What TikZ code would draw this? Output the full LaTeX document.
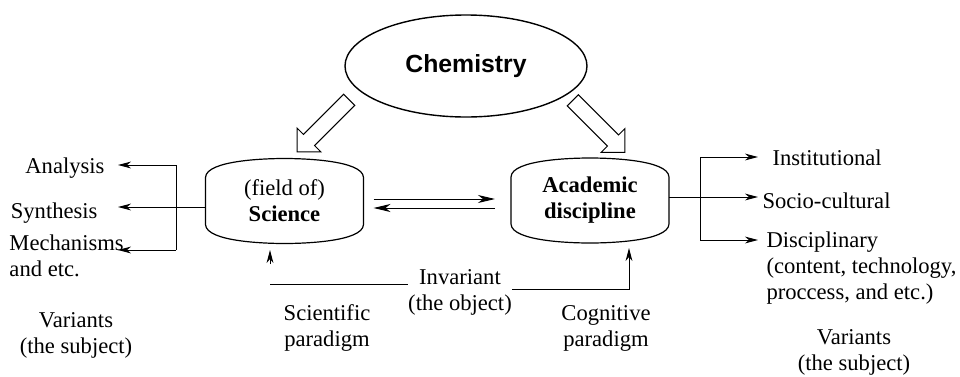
\documentclass[tikz,border=0pt]{standalone}
\usepackage{fontspec}
\setmainfont{Liberation Serif}
\newfontfamily\chemfont{Liberation Sans}
\usetikzlibrary{
    shapes.geometric,
    shapes.arrows,
    arrows.meta,
    calc,
    positioning
}
\tikzset{txt/.style={inner sep=0pt, align=center, font=\fontsize{11.3}{13}\selectfont}}
\tikzset{thintip/.style={-{Stealth[length=6.5pt, width=3.4pt, inset=2pt]}}}
\tikzset{longtip/.style={-{Stealth[length=8.5pt, width=4pt, inset=2.5pt]}}}
\tikzset{hollow/.style={single arrow, draw, line width=0.5pt, single arrow head extend=4.4pt,
    inner xsep=0pt, inner ysep=3.7pt, minimum width=16.2pt, minimum height=36.8pt}}
\tikzset{cask/.style={txt, minimum width=78.5pt, minimum height=42pt,
    append after command={\pgfextra{
        \draw[line width=0.6pt, looseness=0.55] ([yshift=-9.5pt]\tikzlastnode.north west)
            to[out=88,in=180] (\tikzlastnode.north)
            to[out=0,in=92] ([yshift=-9.5pt]\tikzlastnode.north east)
            -- ([yshift=9.5pt]\tikzlastnode.south east)
            to[out=-92,in=0] (\tikzlastnode.south)
            to[out=180,in=-88] ([yshift=9.5pt]\tikzlastnode.south west) -- cycle;}}}}

\begin{document}
\begin{tikzpicture}[x=0.5pt, y=-0.5pt, line width=0.5pt]
    \useasboundingbox (0,0) rectangle (960,376);

    % top and the two boxes
    \node[draw, ellipse, line width=0.7pt, minimum width=121pt, minimum height=51pt, inner sep=0pt,
        font=\chemfont\fontsize{12.4}{14}\selectfont\bfseries] (chem) at (466,66) {Chemistry};
    \node[cask] (sci) at (284.5,201) {(field of)\\\textbf{Science}};
    \node[cask] (acad) at (590,200.5) {\textbf{Academic}\\\textbf{discipline}};

    \node[hollow, rotate=225] (tosci) at (326,123) {};
    \node[hollow, rotate=-45] (toacad) at (596,123.5) {};

    \coordinate (topl) at ([shift={(5pt,1pt)}]sci.east);
    \coordinate (botl) at ([shift={(5pt,-3.5pt)}]sci.east);
    \draw[longtip, shorten >=8pt] (topl) -- (topl -| acad.west);
    \draw[longtip, shorten <=8pt] (botl -| acad.west) -- (botl);

    % left side
    \node[txt, anchor=east] (ana) at (105,167.7) {Analysis};
    \node[txt, anchor=east] (syn) at (98,212.7) {Synthesis};
    \node[txt, anchor=west, align=left] (mech) at (9,255.5) {Mechanisms\\and etc.};
    \node[txt] (lvar) at (76,335.5) {Variants\\(the subject)};

    \coordinate (lbt) at (176,165);
    \coordinate (lbb) at (176,250);
    \coordinate (anatip) at (118,165);
    \coordinate (syntip) at (118,207);
    \coordinate (mechtip) at (118,250);
    \draw (lbt) -- (lbb);
    \draw[thintip] (lbt) -- (anatip);
    \draw[thintip] ([yshift=-3pt]sci.west) -- (syntip);
    \draw[thintip] (lbb) -- (mechtip);

    % right side
    \node[txt, anchor=west] (inst) at (772,157.7) {Institutional};
    \node[txt, anchor=west] (soc) at (762,200.7) {Socio-cultural};
    \node[txt, anchor=west, align=left] (disc) at (766,268.5) {Disciplinary\\(content, technology,\\proccess, and etc.)};
    \node[txt] (rvar) at (854,352.5) {Variants\\(the subject)};

    \coordinate (rbt) at (700,157);
    \coordinate (rbb) at (700,240);
    \coordinate (insttip) at (758,157);
    \coordinate (soctip) at (758,197);
    \coordinate (disctip) at (758,240);
    \draw (rbt) -- (rbb);
    \draw[thintip] (rbt) -- (insttip);
    \draw[thintip] ([yshift=1.75pt]acad.east) -- (soctip);
    \draw[thintip] (rbb) -- (disctip);

    % bottom
    \node[txt] (scipar) at (327,327.5) {Scientific\\paradigm};
    \node[txt] (inv) at (460,292.5) {Invariant\\(the object)};
    \node[txt] (cogpar) at (606,328.5) {Cognitive\\paradigm};

    \coordinate (scifoot) at (270,264);
    \coordinate (sciup) at (270,250);
    \coordinate (invl) at (270,284);
    \coordinate (invrr) at (512,289);
    \coordinate (acadup) at (629,248);
    \draw[thintip] (scifoot) -- (sciup);
    \draw (invl) -- (invl -| inv.west);
    \draw[thintip] (invrr) -| (acadup);
\end{tikzpicture}
\end{document}
